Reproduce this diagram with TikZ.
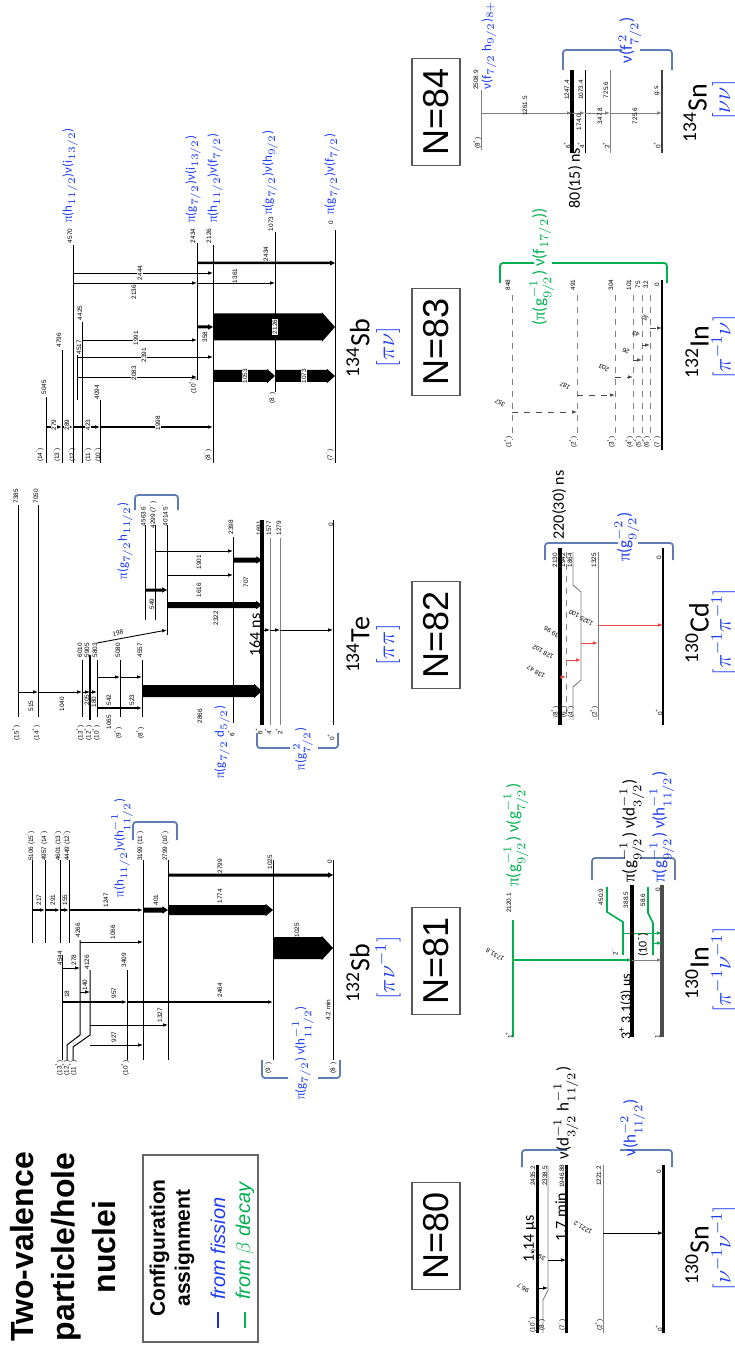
\documentclass[tikz,border=0pt]{standalone}
\usepackage{fontspec}
\setmainfont{Carlito}
\newfontfamily\arial{Liberation Sans}
\newfontfamily\tms{Liberation Serif}
\usetikzlibrary{arrows.meta}
\definecolor{cblue}{RGB}{30,60,240}
\definecolor{cgreen}{RGB}{0,176,80}
\definecolor{cbrk}{RGB}{95,125,180}
\definecolor{cred}{RGB}{235,70,70}
\newcounter{lc}
\newcommand\LT[4][]{\stepcounter{lc}\node[tx,rotate=90,#1] (t\arabic{lc}) at (#2,#3) {#4};}
\newcommand\LS[4][]{\stepcounter{lc}\node[tx,rotate=150,#1] (t\arabic{lc}) at (#2,#3) {#4};}
\newcommand\Mn{\textsuperscript{-}}
\newcommand\Pl{\textsuperscript{+}}
\newcommand\PI{{\tms π}}
\newcommand\blk[4]{\fill (#1,#3-#4/2) -- (#2-4-#4/3,#3-#4/2) -- (#2-4-#4/3,#3-#4/2-1.2) -- (#2,#3) -- (#2-4-#4/3,#3+#4/2+1.2) -- (#2-4-#4/3,#3+#4/2) -- (#1,#3+#4/2) -- cycle;}
\newcommand\Brk[7]{\draw[#1, line width=0.9pt, rounded corners=1.5pt] (#2,#7) -- (#2,#6) -- (#3,#6) (#4,#6) -- (#5,#6) -- (#5,#7);}
\begin{document}
\begin{tikzpicture}[x=0.5pt,y=-0.5pt,
  tx/.style={font=\arial\fontsize{3.2}{3.2}\selectfont, inner sep=0.3pt},
  lv/.style={line width=0.5pt},
  lvg/.style={line width=0.45pt, gray},
  lvk/.style={line width=1.6pt},
  gam/.style={line width=0.45pt, -{Latex[length=2.4pt,width=1.8pt]}},
  cfg/.style={rotate=90, inner sep=0pt, text=cblue, font=\fontsize{6.5}{6.5}\selectfont},
  cfgb/.style={rotate=90, inner sep=0pt, text=cblue, font=\fontsize{8.5}{8.5}\selectfont},
  nbox/.style={rotate=90, draw=black!65, line width=0.7pt, minimum width=53.5pt, minimum height=24pt, inner sep=0pt, font=\arial\fontsize{18}{18}\selectfont},
  nuc/.style={rotate=90, inner sep=0pt, font=\fontsize{14}{14}\selectfont},
  cls/.style={rotate=90, inner sep=0pt, text=cblue, font=\fontsize{12}{12}\selectfont},
  tm/.style={rotate=90, inner sep=0pt, font=\fontsize{8}{8}\selectfont},
]
\useasboundingbox (0,0) rectangle (734,1352);
\fill[white] (0,0) rectangle (734,1352);

% ---------- title and legend
\node[rotate=90, align=center, inner sep=0, font=\arial\bfseries\fontsize{16}{20.5}\selectfont] (title) at (63,1247) {Two-valence\\particle/hole\\nuclei};
\draw[black!60, line width=0.8pt] (143,1155) rectangle (258,1342);
\node[rotate=90, align=center, inner sep=0, font=\arial\bfseries\fontsize{10.5}{12.5}\selectfont] (cfgt) at (172,1248) {Configuration\\assignment};
\draw[cblue!80!black, line width=1pt] (218,1312) -- (218,1328);
\node[rotate=90, anchor=west, inner sep=0, text=cblue, font=\arial\itshape\fontsize{10}{10}\selectfont] (lfis) at (218,1300) {from fission};
\draw[cgreen, line width=1pt] (245,1312) -- (245,1328);
\node[rotate=90, anchor=west, inner sep=0, text=cgreen, font=\arial\itshape\fontsize{10}{10}\selectfont] (lbet) at (245,1300) {from $\beta$ decay};

% ---------- N boxes
\node[nbox] (n80) at (436,1236) {N=80};
\node[nbox] (n81) at (436,961) {N=81};
\node[nbox] (n82) at (436,635) {N=82};
\node[nbox] (n83) at (436,342) {N=83};
\node[nbox] (n84) at (436,112) {N=84};

% ================= 132Sb
\foreach \x in {32,45,60,69} {\draw[lv] (\x,860) -- (\x,943);}
\foreach \x in {143,168,273,333} {\draw[lv] (\x,860) -- (\x,1060);}
\draw[lv] (62,955) -- (62,1060);
\draw[lv] (80,940) -- (80,1035) -- (67,1045) -- (67,1060);
\draw[lv] (90,970) -- (90,1035) -- (73,1047) -- (73,1060);
\draw[lv] (127,970) -- (127,1060);
\LT{31}{846}{5106 (15\Mn)}
\LT{44}{846}{4957 (14\Mn)}
\LT{58}{846}{4601 (13\Mn)}
\LT{67}{846}{4449 (12\Mn)}
\LT{140}{846}{3199 (11\Mn)}
\LT{165}{846}{2799 (10\Mn)}
\LT{270}{862}{1025}
\LT{330}{862}{0}
\LT{60}{958}{4544}
\LT{78}{930}{4266}
\LT{87}{962}{4126}
\LT{124}{960}{3409}
\LT{59}{1068}{(13\Pl)}
\LT{66}{1068}{(12\Pl)}
\LT{73}{1068}{(11\Pl)}
\LT{125}{1068}{(10\Pl)}
\LT{268}{1068}{(9\Mn)}
\LT{333}{1068}{(8\Mn)}
\LT{328}{1010}{4.2 min}
\draw[gam, line width=0.9pt] (32,910) -- (45,910);
\draw[gam, line width=0.9pt] (45,910) -- (60,910);
\draw[gam, line width=0.9pt] (60,910) -- (69,910);
\draw[gam, line width=0.9pt] (69,910) -- (143,910);
\blk{143}{168}{910}{5}
\blk{168}{273}{910}{10}
\LT{39}{900}{217}
\LT{53}{900}{291}
\LT{65}{900}{155}
\LT{106}{900}{1247}
\LT{156}{900}{401}
\LT{220}{896}{1774}
\blk{168}{333}{875}{3}
\LT{220}{866}{2799}
\draw[gam] (80,942) -- (143,942);
\LT{113}{932}{1066}
\draw[gam] (62,968) -- (80,968);
\LT{74}{960}{278}
\draw[gam] (80,992) -- (90,992);
\LT{85}{985}{140}
\draw[gam, line width=0.8pt] (62,1002) -- (127,1002);
\draw[gam, line width=1.1pt] (127,1002) -- (273,1002);
\LT{67}{994}{18}
\LT{114}{993}{957}
\LT{220}{990}{2464}
\draw[gam] (90,1025) -- (168,1025);
\LT{160}{1015}{1327}
\draw[gam] (90,1045) -- (143,1045);
\LT{114}{1037}{927}
\blk{273}{333}{948}{22}
\LT{297}{930}{1025}
\Brk{cbrk}{133}{155}{155}{177}{822}{840}
\node[cfg] (c1) at (122,848) {\PI(h$_{11/2}$)ν(h$^{-1}_{11/2}$)};
\Brk{cbrk}{262}{288}{318}{340}{1078}{1060}
\node[cfg] (c2) at (303,1053) {\PI(g$_{7/2}$) ν(h$^{-1}_{11/2}$)};
\node[nuc] (sb132) at (358,973) {\textsuperscript{132}Sb};
\node[cls] (csb132) at (388,968) {$[\pi\nu^{-1}]$};

% ================= 134Te
\draw[lv] (18,505) -- (18,717);
\draw[lv] (38,505) -- (38,717);
\draw[lv] (82,660) -- (82,717);
\draw[line width=1.3pt] (90,655) -- (90,720);
\draw[lv] (97,660) -- (97,717);
\draw[lv] (120,660) -- (120,717);
\draw[lv] (142,660) -- (142,717);
\draw[lv] (145,525) -- (145,620);
\draw[lv] (155,525) -- (155,620);
\draw[lv] (167,525) -- (167,635);
\draw[lv] (233,537) -- (233,723);
\draw[lvk] (262,520) -- (262,725);
\draw[lvg] (270,538) -- (270,725);
\draw[lvg] (280,538) -- (280,725);
\draw[lv] (333,520) -- (333,725);
\LT{16}{496}{7385}
\LT{36}{496}{7050}
\LT{80}{650}{6010}
\LT{87}{650}{5905}
\LT{95}{650}{5803}
\LT{118}{650}{5080}
\LT{140}{650}{4557}
\LT{16}{733}{(15\Pl)}
\LT{36}{733}{(14\Pl)}
\LT{80}{733}{(13\Pl)}
\LT{88}{733}{(12\Pl)}
\LT{96}{733}{(10\Pl)}
\LT{118}{733}{(9\Pl)}
\LT{140}{733}{(8\Pl)}
\LT{143}{515}{4563 6\Mn}
\LT{153}{515}{4299 (7\Mn)}
\LT{165}{515}{4014 5\Mn}
\LT{231}{527}{2398}
\LT{231}{733}{6\Pl}
\LT{259}{528}{1691}
\LT{269}{528}{1577}
\LT{279}{528}{1279}
\LT{331}{525}{0}
\LT{259}{731}{6\Pl}
\LT{268}{731}{4\Pl}
\LT{279}{731}{2\Pl}
\LT{331}{737}{0\Pl}
\draw[gam] (18,692) -- (38,692);
\draw[gam] (38,692) -- (82,692);
\draw[gam] (82,692) -- (90,692);
\draw[gam] (90,692) -- (97,692);
\LT{31}{706}{515}
\LT{62}{704}{1040}
\LT{87}{700}{205}
\LT{94}{702}{180}
\draw[gam] (97,677) -- (120,677);
\draw[gam] (120,677) -- (142,677);
\draw[gam, line width=1.2pt] (97,708) -- (142,708);
\LT{109}{700}{542}
\LT{132}{700}{523}
\LT{109}{722}{1065}
\blk{142}{262}{691}{12}
\LT{200}{716}{2866}
\draw[gam] (97,643) -- (167,630);
\node[tx, rotate=11] (l198) at (118,633) {198};
\blk{145}{167}{590}{3}
\LT{152}{604}{549}
\blk{167}{262}{605}{6}
\LT{216}{618}{2322}
\draw[gam] (167,575) -- (233,575);
\LT{199}{590}{1616}
\draw[gam] (155,551) -- (233,551);
\LT{199}{562}{1901}
\blk{233}{262}{560}{5}
\LT{246}{582}{707}
\draw[gam] (262,630) -- (270,630);
\draw[gam] (270,630) -- (280,630);
\draw[gam] (280,630) -- (333,630);
\node[tm] (ns164) at (255,635) {164 ns};
\Brk{cbrk}{257}{290}{318}{338}{748}{733}
\node[cfg] (c3) at (303,749) {\PI(g$_{7/2}^{\,2}$)};
\Brk{cbrk}{135}{156}{156}{178}{495}{510}
\node[cfg] (c4) at (125,541) {\PI(g$_{7/2}$h$_{11/2}$)};
\node[cfg] (c5) at (222,742) {\PI(g$_{7/2}$ d$_{5/2}$)};
\node[nuc] (te134) at (358,645) {\textsuperscript{134}Te};
\node[cls] (cte134) at (388,645) {$[\pi\pi]$};

% ================= 134Sb
\draw[lv] (46,397) -- (46,463);
\draw[lv] (62,350) -- (62,463);
\draw[lv] (73,245) -- (73,463);
\draw[lv] (77,355) -- (77,400);
\draw[lv] (82,322) -- (82,463);
\draw[lv] (100,400) -- (100,463);
\draw[lv] (197,243) -- (197,380);
\draw[lv] (213,245) -- (213,463);
\draw[lv] (275,232) -- (275,392);
\draw[lv] (335,230) -- (335,463);
\LT{44}{387}{5045}
\LT{59}{340}{4796}
\LT{79}{347}{4517}
\LT{80}{313}{4425}
\LT{97}{392}{4094}
\LT{70}{236}{4570}
\LT{193}{236}{2434}
\LT{209}{236}{2126}
\LT{271}{224}{1073}
\LT{331}{223}{0}
\LT{40}{455}{(14\Mn)}
\LT{57}{455}{(13\Mn)}
\LT{72}{455}{(12\Mn)}
\LT{88}{455}{(11\Mn)}
\LT{98}{455}{(10\Mn)}
\LT{193}{386}{(10\Pl)}
\LT{208}{455}{(8\Mn)}
\LT{272}{398}{(8\Mn)}
\LT{330}{455}{(7\Mn)}
\draw[gam, line width=0.8pt] (46,427) -- (62,427);
\draw[gam, line width=0.8pt] (62,427) -- (73,427);
\draw[gam, line width=0.8pt] (73,427) -- (100,427);
\draw[gam, line width=0.8pt] (100,427) -- (213,427);
\LT[fill=white]{54}{425}{279}
\LT[fill=white]{67}{425}{289}
\LT[fill=white]{88}{425}{423}
\LT[fill=white]{158}{423}{1998}
\draw[gam] (73,273) -- (213,273);
\LT[fill=white]{140}{273}{2444}
\draw[gam] (73,283) -- (197,283);
\LT{134}{292}{2136}
\draw[gam] (197,283) -- (275,283);
\LT{235}{276}{1361}
\draw[gam] (82,340) -- (197,340);
\LT[fill=white]{136}{338}{1991}
\draw[gam] (77,357) -- (213,357);
\LT[fill=white]{144}{355}{2391}
\draw[gam] (77,377) -- (197,377);
\LT[fill=white]{134}{373}{2083}
\blk{197}{213}{327}{3}
\LT{205}{337}{358}
\blk{213}{335}{327}{27}
\LT[fill=white]{275}{327}{2126}
\blk{213}{275}{376}{12}
\LT[fill=white]{245}{376}{1053}
\blk{275}{335}{376}{12}
\LT[fill=white]{304}{376}{1073}
\blk{197}{335}{263}{2.5}
\LT{266}{254}{2434}
\node[cfg, anchor=west] (c6) at (70,223) {\PI(h$_{11/2}$)ν(i$_{13/2}$)};
\node[cfg, anchor=west] (c7) at (193,223) {\PI(g$_{7/2}$)ν(i$_{13/2}$)};
\node[cfg, anchor=west] (c8) at (215,223) {\PI(h$_{11/2}$)ν(f$_{7/2}$)};
\node[cfg, anchor=west] (c9) at (270,215) {\PI(g$_{7/2}$)ν(h$_{9/2}$)};
\node[cfg, anchor=west] (c10) at (332,215) {\PI(g$_{7/2}$)ν(f$_{7/2}$)};
\node[nuc] (sb134) at (358,348) {\textsuperscript{134}Sb};
\node[cls] (csb134) at (388,347) {$[\pi\nu]$};

% ================= 134Sn
\draw[lvg] (481,90) -- (481,150);
\LT{476}{80}{2508.9}
\LT{477}{143}{(8\Pl)}
\draw[line width=1.8pt] (572,70) -- (572,153);
\draw[lv] (585,70) -- (585,153);
\draw[lvg] (610,70) -- (610,153);
\draw[line width=1.3pt, black!75] (662,70) -- (662,153);
\LT{567}{90}{1247.4}
\LT{581}{90}{1073.4}
\LT{606}{90}{725.6}
\LT{657}{90}{g.s.}
\LT{567}{145}{6\Pl}
\LT{581}{145}{4\Pl}
\LT{606}{145}{2\Pl}
\LT{657}{145}{0\Pl}
\draw[gam, gray] (481,113) -- (572,113);
\draw[gam, gray] (572,113) -- (585,113);
\draw[gam, gray] (585,113) -- (610,113);
\draw[gam, gray] (610,113) -- (662,113);
\LT{525}{106}{1261.5}
\LT{579}{122}{174.0}
\LT{600}{116}{347.8}
\LT{635}{116}{725.6}
\node[tm] (ns80) at (575,178) {80(15) ns};
\Brk{cbrk}{563}{622}{640}{672}{50}{70}
\node[cfgb] (c11) at (630,40) {ν(f$_{7/2}^{\,2}$)};
\node[cfgb, anchor=west, font=\fontsize{6.6}{6.6}\selectfont] (c12) at (489,90) {ν(f$_{7/2}$ h$_{9/2}$)$_{8+}$};
\node[nuc] (sn134) at (695,113) {\textsuperscript{134}Sn};
\node[cls] (csn134) at (724,100) {$[\nu\nu]$};

% ================= 132In
\foreach \x in {512,577,615,633,642,650} {\draw[lvg, dashed] (\x,295) -- (\x,440);}
\draw[line width=1.4pt] (662,280) -- (662,450);
\LT{508}{285}{848}
\LT{573}{285}{491}
\LT{611}{285}{304}
\LT{629}{285}{101}
\LT{638}{285}{75}
\LT{646}{285}{32}
\LT{657}{285}{0}
\LT{508}{442}{(1\Pl)}
\LT{573}{442}{(2\Pl)}
\LT{611}{442}{(3\Pl)}
\LT{629}{442}{(4\Pl)}
\LT{638}{442}{(5\Pl)}
\LT{646}{442}{(6\Pl)}
\LT{657}{442}{(7\Mn)}
\draw[gam, dashed, gray!60!black] (512,412) -- (577,412);
\draw[gam, dashed, gray!60!black] (577,395) -- (615,395);
\draw[gam, dashed, gray!60!black] (615,377) -- (633,377);
\draw[gam, dashed, gray!60!black] (633,360) -- (642,360);
\draw[gam, dashed, gray!60!black] (642,345) -- (650,345);
\draw[gam, dashed, gray!60!black] (650,328) -- (662,328);
\LS{500}{403}{357}
\LS{565}{386}{187}
\LS{604}{368}{203}
\LS{626}{351}{26}
\LS{636}{334}{43}
\LS{645}{318}{32}
\Brk{cgreen}{500}{534}{552}{667}{263}{283}
\node[cfgb, text=cgreen] (c13) at (542,267) {(\PI(g$_{9/2}^{-1}$) ν(f$_{17/2}$))};
\node[nuc] (in132) at (697,352) {\textsuperscript{132}In};
\node[cls] (cin132) at (724,347) {$[\pi^{-1}\nu]$};

% ================= 130Cd
\node[tm] (ns220) at (559,505) {220(30) ns};
\draw[line width=1.6pt] (560,548) -- (560,725);
\draw[lvg, dashed] (566,552) -- (566,720);
\draw[lvg] (573,552) -- (573,585) -- (581,592) -- (581,680) -- (573,687) -- (573,720);
\draw[lvg] (598,552) -- (598,720);
\draw[line width=1.4pt] (663,548) -- (663,725);
\LT{555}{560}{2130}
\LT{563}{560}{1942}
\LT{570}{560}{1864}
\LT{594}{560}{1325}
\LT{659}{558}{0}
\LT{555}{712}{(8\Pl)}
\LT{563}{712}{(6\Pl)}
\LT{570}{712}{(4\Pl)}
\LT{594}{712}{(2\Pl)}
\LT{659}{712}{0\Pl}
\draw[gam, cred] (598,625) -- (663,625);
\draw[gam, cred] (581,643) -- (598,643);
\draw[gam, cred] (566,660) -- (581,660);
\draw[gam, cred] (560,677) -- (566,677);
\LS{581}{618}{1325 100}
\LS{553}{633}{539 96}
\LS{543}{652}{128 102}
\LS{536}{672}{138 47}
\Brk{cbrk}{545}{618}{638}{673}{543}{560}
\node[cfgb] (c14) at (627,537) {\PI(g$_{9/2}^{-2}$)};
\node[nuc] (cd130) at (697,633) {\textsuperscript{130}Cd};
\node[cls] (ccd130) at (724,632) {$[\pi^{-1}\pi^{-1}]$};

% ================= 130In
\node[cfgb, text=cgreen, anchor=west] (c15) at (516,887) {\PI(g$_{9/2}^{-1}$) ν(g$_{7/2}^{-1}$)};
\draw[cgreen, line width=0.9pt] (513,920) -- (513,1037);
\LT{509}{903}{2120.1}
\LT{509}{1035}{1\Pl}
\draw[gam, cgreen, line width=0.8pt] (513,960) -- (632,960);
\LS{495}{955}{1731.8}
\draw[cgreen, line width=0.8pt] (607,887) -- (607,912) -- (623,922) -- (623,955);
\LT{601}{897}{450.9}
\LT{615}{952}{2\Mn}
\draw[gam, cgreen] (623,933) -- (662,933);
\draw[line width=1.8pt] (632,885) -- (632,1037);
\LT{626}{900}{388.5}
\node[rotate=90, anchor=west, inner sep=0, font=\fontsize{7}{7}\selectfont] (hl130) at (626,1040) {3\Pl\ 3.1(3) μs};
\draw[line width=1.6pt, black!70] (662,885) -- (662,1037);
\LT{658}{890}{0}
\LT{657}{1035}{1\Mn}
\draw[cgreen, line width=0.8pt] (648,887) -- (648,913) -- (653,923) -- (653,955);
\LT{643}{900}{58.6}
\node[rotate=90, inner sep=0, font=\fontsize{6}{6}\selectfont] (s10) at (643,945) {(10\Mn)};
\draw[gam, cgreen] (653,943) -- (662,943);
\draw[gam, gray] (632,960) -- (662,960);
\Brk{cbrk!70!gray}{592}{625}{640}{675}{858}{880}
\node[cfgb, text=black, anchor=west] (c16) at (632,883) {\PI(g$_{9/2}^{-1}$) ν(d$_{3/2}^{-1}$)};
\node[cfgb, anchor=west] (c17) at (662,883) {\PI(g$_{9/2}^{-1}$) ν(h$_{11/2}^{-1}$)};
\node[nuc] (in130) at (697,973) {\textsuperscript{130}In};
\node[cls] (cin130) at (724,970) {$[\pi^{-1}\nu^{-1}]$};

% ================= 130Sn
\draw[line width=1.5pt] (537,1165) -- (537,1333);
\draw[lvg] (548,1165) -- (548,1290) -- (543,1300) -- (543,1333);
\draw[line width=1.5pt] (566,1165) -- (566,1333);
\draw[lvg] (603,1165) -- (603,1333);
\draw[line width=1.5pt] (663,1165) -- (663,1333);
\LT{533}{1176}{2435.2}
\LT{545}{1176}{2338.5}
\LT{562}{1176}{1946.88}
\LT{599}{1176}{1221.2}
\LT{659}{1172}{0}
\LT{532}{1325}{(10\Pl)}
\LT{541}{1325}{(8\Pl)}
\LT{562}{1325}{(7\Mn)}
\LT{599}{1325}{(2\Pl)}
\LT{659}{1328}{0\Pl}
\node[tm] (ns114) at (530,1239) {1.14 μs};
\node[tm] (mn17) at (561,1217) {1.7 min};
\draw[gam] (548,1260) -- (566,1260);
\LS{538}{1255}{391.6}
\draw[gam] (537,1288) -- (548,1288);
\LS{523}{1288}{96.7}
\draw[gam] (603,1233) -- (663,1233);
\LS{583}{1228}{1221.2}
\Brk{cbrk}{522}{567}{620}{672}{1150}{1167}
\node[cfgb, text=black, anchor=west] (c18) at (566,1160) {ν(d$_{3/2}^{-1}$ h$_{11/2}^{-1}$)};
\node[cfgb, anchor=west] (c19) at (633,1157) {ν(h$_{11/2}^{-2}$)};
\node[nuc] (sn130) at (697,1255) {\textsuperscript{130}Sn};
\node[cls] (csn130) at (724,1248) {$[\nu^{-1}\nu^{-1}]$};
\end{tikzpicture}
\end{document}
